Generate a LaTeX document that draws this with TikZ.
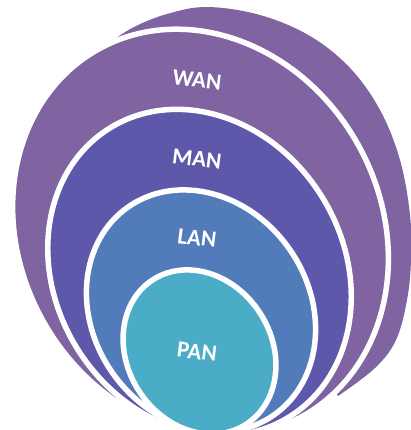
\documentclass[tikz,border=0pt]{standalone}
\usepackage{fontspec}
\setmainfont{Carlito}
\usetikzlibrary{shapes.geometric}
\definecolor{wancol}{RGB}{128,100,161}
\definecolor{mancol}{RGB}{94,88,170}
\definecolor{lancol}{RGB}{81,124,185}
\definecolor{pancol}{RGB}{74,172,198}
\begin{document}
\begin{tikzpicture}[x=1pt,y=-1pt,
  ring/.style={ellipse,draw=white,line width=5.5pt,inner sep=0pt},
  lbl/.style={text=white,font=\fontsize{23}{23}\selectfont\bfseries,rotate=-7}]
\useasboundingbox (0,0) rectangle (411,430);
\clip (0,0) rectangle (411,430);
\fill[wancol] plot[smooth,tension=0.6] coordinates {(112,41) (134,27) (167,14) (207,7) (260,15) (310,36) (350,68) (380,110) (400,160) (410,215) (411,260) (407,300) (396,340) (375,368) (338,396)} -- (250,250) -- cycle;
\node[ring,fill=wancol,minimum width=361pt,minimum height=420pt,rotate=29] (wan) at (200.5,232.7) {};
\node[ring,fill=mancol,minimum width=288pt,minimum height=340pt,rotate=32] (man) at (199.5,272.5) {};
\node[ring,fill=lancol,minimum width=216pt,minimum height=254pt,rotate=35] (lan) at (201,311) {};
\node[ring,fill=pancol,minimum width=144pt,minimum height=172pt,rotate=33] (pan) at (199.5,352) {};
\node[lbl] (wantext) at (197,80) {WAN};
\node[lbl] (mantext) at (197,159) {MAN};
\node[lbl] (lantext) at (197,238) {LAN};
\node[lbl] (pantext) at (197,352) {PAN};
\end{tikzpicture}
\end{document}
